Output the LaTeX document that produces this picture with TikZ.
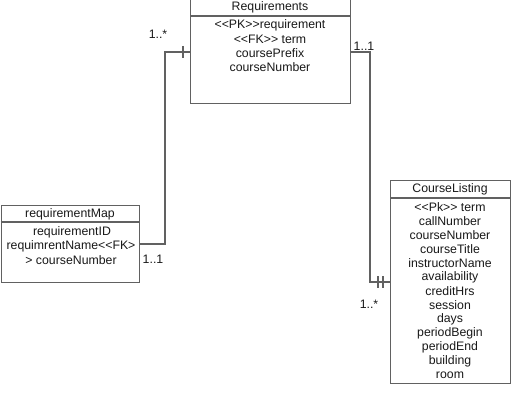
\documentclass[tikz,border=0pt]{standalone}
\usepackage{fontspec}
\setmainfont{Liberation Sans}[Ligatures=TeXOff]
\begin{document}
\begin{tikzpicture}[x=1pt,y=-1pt,
  lc/.style={draw=black!62, line width=1.2pt},
  ent/.style={lc, fill=white, inner sep=0pt, anchor=north west},
  txt/.style={font=\fontsize{12.3}{14}\selectfont, text=black!90, inner sep=0pt},
  lbl/.style={font=\fontsize{12.3}{14}\selectfont, text=black!90, inner sep=0pt}]
\useasboundingbox (0,0) rectangle (532,406);
% Requirements
\node[ent, minimum width=160pt, minimum height=105pt] (req) at (190,-2) {};
\draw[lc] (190,16) -- (350,16);
\node[txt] (reqT) at (270,7) {Requirements};
\node[txt] (req1) at (270,25) {<<PK>>requirement};
\node[txt] (req2) at (270,39) {<<FK>> term};
\node[txt] (req3) at (270,53) {coursePrefix};
\node[txt] (req4) at (270,67) {courseNumber};
% requirementMap
\node[ent, minimum width=138.5pt, minimum height=77pt] (map) at (0.6,205) {};
\draw[lc] (0.6,222) -- (139,222);
\node[txt] (mapT) at (70,214) {requirementMap};
\node[txt] (map1) at (72,232) {requirementID};
\node[txt] (map2) at (71,246) {requimrentName<<FK>};
\node[txt] (map3) at (71,260) {> courseNumber};
% CourseListing
\node[ent, minimum width=120pt, minimum height=203pt] (cl) at (390,180) {};
\draw[lc] (390,198) -- (510,198);
\node[txt] (clT) at (450,189) {CourseListing};
\foreach \t [count=\i from 0] in {<<Pk>> term,callNumber,courseNumber,courseTitle,instructorName,availability,creditHrs,session,days,periodBegin,periodEnd,building,room}
  \node[txt] (cl\i) at (450,207+14*\i) {\t};
% connector anchors
\coordinate (reqL) at (190,52);
\coordinate (reqR) at (350,52);
\coordinate (mapR) at (139,244);
\coordinate (clL) at (390,282);
\draw[lc] (reqL) -- (165,52) |- (mapR);
\draw[lc] (183,46) -- (183,58);
\draw[lc] (reqR) -- (370,52) |- (clL);
\draw[lc] (378,276) -- (378,288);
\draw[lc] (383,276) -- (383,288);
% multiplicities
\node[lbl] (m1) at (158,34) {1..*};
\node[lbl] (m2) at (364,46) {1..1};
\node[lbl] (m3) at (153,259) {1..1};
\node[lbl] (m4) at (369,304) {1..*};
\end{tikzpicture}
\end{document}
